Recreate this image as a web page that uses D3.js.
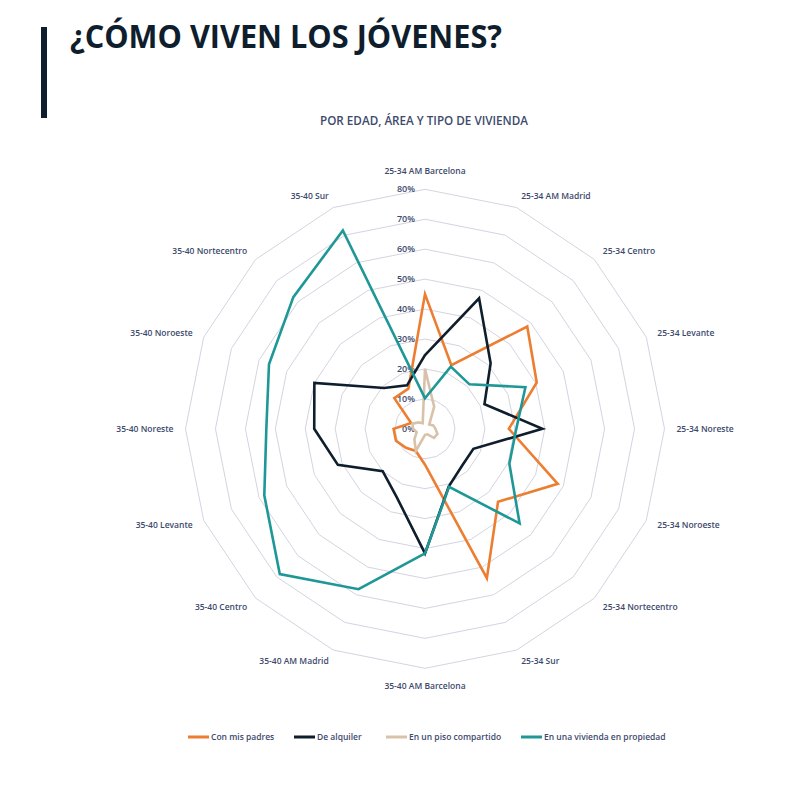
<!DOCTYPE html>
<html>
<head>
<meta charset="utf-8">
<script src="https://cdn.jsdelivr.net/npm/d3@7"></script>
<style>
  body { margin: 0; background: #fff; }
  text { font-family: "Open Sans", sans-serif; }
</style>
</head>
<body>
<div id="chart"></div>
<script>
// data
const categories = ["25-34 AM Barcelona", "25-34 AM Madrid", "25-34 Centro", "25-34 Levante",
                    "25-34 Noreste", "25-34 Noroeste", "25-34 Nortecentro", "25-34 Sur",
                    "35-40 AM Barcelona", "35-40 AM Madrid", "35-40 Centro", "35-40 Levante",
                    "35-40 Noreste", "35-40 Noroeste", "35-40 Nortecentro", "35-40 Sur"];
const conMisPadres = [45, 23, 48.3, 40.4, 28, 48, 34.5, 54, 12, 8, 9, 10.5, 10.5, 5, 14.5, 14.5];
const deAlquiler = [24.6, 47.2, 31, 21.5, 39.2, 17.5, 17.5, 20.8, 41.6, 24.7, 20, 31.5, 37, 40, 19.3, 15.7];
const pisoCompartido = [20, 8, 2, 3, 3.5, 4.5, 4.3, 2, 2, 8, 5, 3, 4, 4.5, 3, 2];
const viviendaPropiedad = [10.2, 22.5, 21, 36.3, 30.5, 30.5, 44.7, 21, 41.6, 58, 68.6, 58.1, 53, 56.4, 62.2, 71.7];
const ticks = [0, 10, 20, 30, 40, 50, 60, 70, 80];
const seriesNames = ["Con mis padres", "De alquiler", "En un piso compartido", "En una vivienda en propiedad"];

// constants
const w = 789,
      h = 790,
      cx = 425,
      cy = 428.8,
      R = 239.5;
const colors = ["#ed7d31", "#0f1e2d", "#d8c2aa", "#1f9797"];
const textCol = "#3d4a6d";

let svg = d3.select("#chart")
            .append("svg")
            .attr("width", w)
            .attr("height", h);

svg.append("rect").attr("width", w).attr("height", h).attr("fill", "#fff");

// header
svg.append("rect")
   .attr("x", 41).attr("y", 27)
   .attr("width", 6).attr("height", 91)
   .attr("fill", "#0f1e2d");
svg.append("text")
   .attr("x", 70).attr("y", 48)
   .attr("textLength", 432)
   .attr("lengthAdjust", "spacingAndGlyphs")
   .attr("font-size", 33)
   .attr("font-weight", 700)
   .attr("fill", "#0f1e2d")
   .text("¿CÓMO VIVEN LOS JÓVENES?");
svg.append("text")
   .attr("x", 320).attr("y", 125)
   .attr("textLength", 208)
   .attr("lengthAdjust", "spacingAndGlyphs")
   .attr("font-size", 12)
   .attr("font-weight", 600)
   .attr("fill", textCol)
   .text("POR EDAD, ÁREA Y TIPO DE VIVIENDA");

// scales
let rScale = d3.scaleLinear().domain([0, 80]).range([0, R]);
let aScale = d3.scaleLinear().domain([0, categories.length]).range([0, 2 * Math.PI]);

let g = svg.append("g").attr("transform", `translate(${cx}, ${cy})`);

// grid rings
let ring = d3.lineRadial()
             .angle((d, i) => aScale(i))
             .radius(d => rScale(d))
             .curve(d3.curveLinearClosed);

g.selectAll(".ring")
 .data(ticks.slice(1))
 .enter()
 .append("path")
 .attr("class", "ring")
 .attr("d", t => ring(categories.map(() => t)))
 .attr("fill", "none")
 .attr("stroke", "#d4d4e0")
 .attr("stroke-width", 1);

// tick labels
g.selectAll(".tick")
 .data(ticks)
 .enter()
 .append("text")
 .attr("x", -10)
 .attr("y", t => -rScale(t))
 .attr("dy", "0.35em")
 .attr("text-anchor", "end")
 .attr("font-size", 9)
 .attr("font-weight", 600)
 .attr("fill", textCol)
 .text(t => t + "%");

// category labels
g.selectAll(".cat")
 .data(categories)
 .enter()
 .append("text")
 .attr("x", (d, i) => Math.sin(aScale(i)) * (R + 12))
 .attr("y", (d, i) => {
   let c = Math.cos(aScale(i));
   // top / bottom labels sit a bit further out
   return -c * (R + 12) - (Math.abs(c) > 0.99 ? c * 6 : 0);
 })
 .attr("dy", "0.35em")
 .attr("text-anchor", (d, i) => {
   let s = Math.sin(aScale(i));
   return Math.abs(s) < 0.01 ? "middle" : (s > 0 ? "start" : "end");
 })
 .attr("font-size", 8.5)
 .attr("font-weight", 600)
 .attr("fill", textCol)
 .text(d => d);

// series
let line = d3.lineRadial()
             .angle((d, i) => aScale(i))
             .radius(d => rScale(d))
             .curve(d3.curveLinearClosed);

let allSeries = [conMisPadres, deAlquiler, pisoCompartido, viviendaPropiedad];
g.selectAll(".series")
 .data(allSeries)
 .enter()
 .append("path")
 .attr("class", "series")
 .attr("d", d => line(d))
 .attr("fill", "none")
 .attr("stroke", (d, i) => colors[i])
 .attr("stroke-width", 2.6)
 .attr("stroke-linejoin", "miter");

// legend
const legX = [188, 294, 386, 521];
let leg = svg.selectAll(".leg")
             .data(seriesNames)
             .enter()
             .append("g")
             .attr("transform", (d, i) => `translate(${legX[i]}, 737)`);
leg.append("line")
   .attr("x1", 0).attr("x2", 21)
   .attr("stroke", (d, i) => colors[i])
   .attr("stroke-width", 3);
leg.append("text")
   .attr("x", 23)
   .attr("dy", "0.35em")
   .attr("font-size", 8.5)
   .attr("font-weight", 600)
   .attr("fill", textCol)
   .text(d => d);
</script>
</body>
</html>
